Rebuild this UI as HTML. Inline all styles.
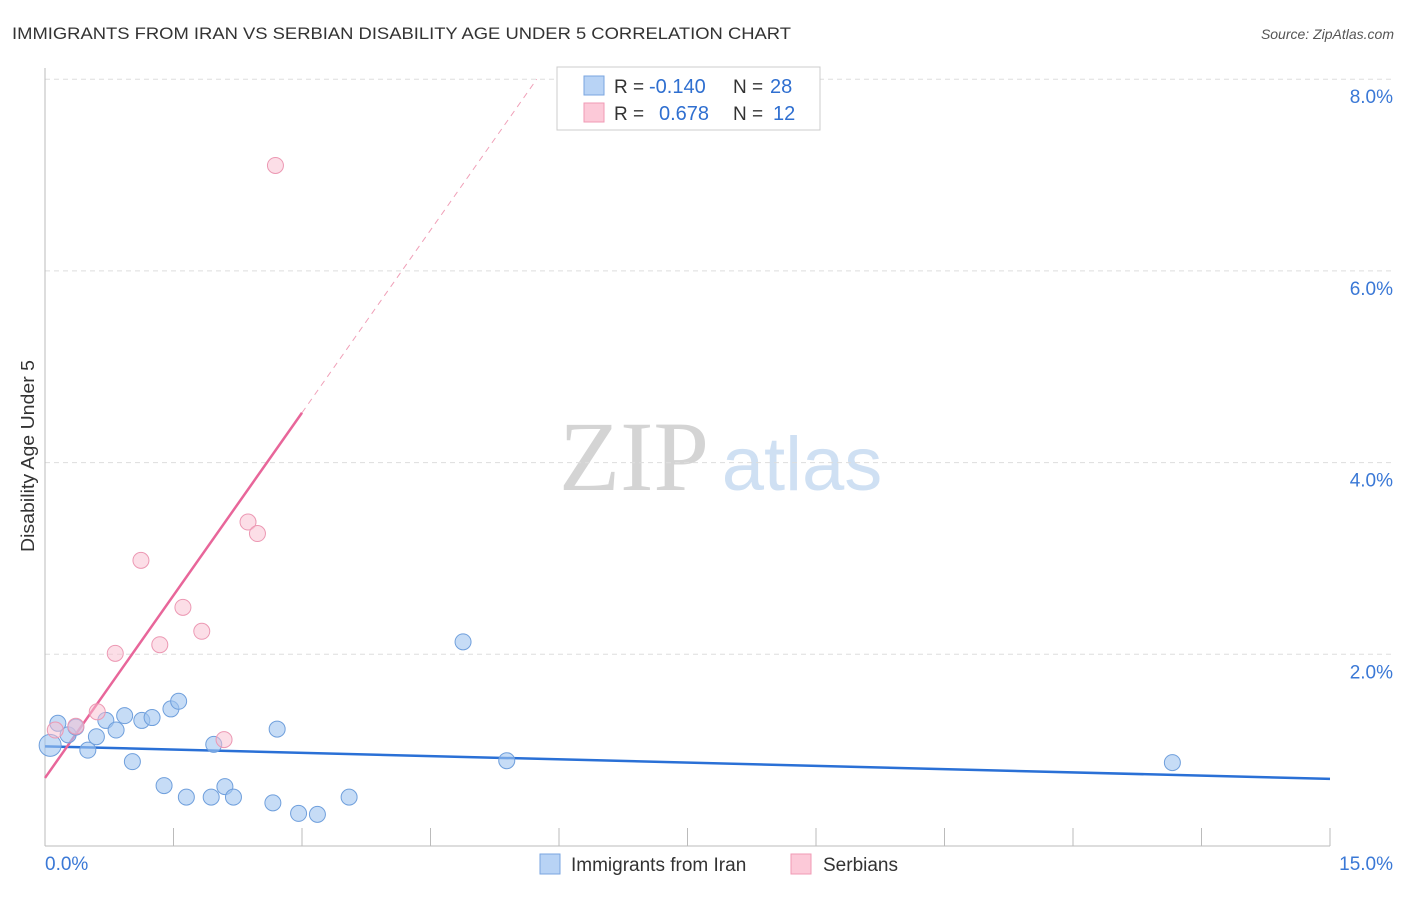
<!DOCTYPE html>
<html><head><meta charset="utf-8"><style>
body{margin:0;background:#fff;font-family:"Liberation Sans",sans-serif;}
svg text{font-family:"Liberation Sans",sans-serif;}
</style></head><body>
<svg id="chart" width="1406" height="892">
<text x="12" y="39" font-size="17" fill="#333" textLength="779" lengthAdjust="spacingAndGlyphs">IMMIGRANTS FROM IRAN VS SERBIAN DISABILITY AGE UNDER 5 CORRELATION CHART</text>
<text x="1394" y="39" font-size="14" fill="#555" font-style="italic" text-anchor="end">Source: ZipAtlas.com</text>
<text transform="translate(34,552) rotate(-90)" font-size="18" fill="#333" textLength="192" lengthAdjust="spacingAndGlyphs">Disability Age Under 5</text>
<g><text x="634" y="490" font-size="100" fill="#d4d4d4" style="font-family:'Liberation Serif',serif" text-anchor="middle">ZIP</text><text x="802" y="490" font-size="76" fill="#cfe0f3" text-anchor="middle">atlas</text></g>
<g id="grid"></g><g id="axes"></g><g id="lines"></g><g id="pts"></g>
<g>
<rect x="557" y="67" width="263" height="63" fill="#fff" stroke="#ccc"/>
<rect x="584" y="76" width="20" height="19" fill="#b8d3f5" stroke="#7aa6e0"/>
<rect x="584" y="103" width="20" height="19" fill="#fcc9d8" stroke="#f09ab5"/>
<text x="614" y="93" font-size="19" fill="#333">R =</text>
<text x="649" y="93" font-size="20" fill="#2f6fd0">-0.140</text>
<text x="733" y="93" font-size="19" fill="#333">N =</text>
<text x="770" y="93" font-size="20" fill="#2f6fd0">28</text>
<text x="614" y="120" font-size="19" fill="#333">R =</text>
<text x="659" y="120" font-size="20" fill="#2f6fd0">0.678</text>
<text x="733" y="120" font-size="19" fill="#333">N =</text>
<text x="773" y="120" font-size="20" fill="#2f6fd0">12</text>
</g>
<g>
<rect x="540" y="854" width="20" height="20" fill="#b8d3f5" stroke="#7aa6e0"/>
<text x="571" y="871" font-size="19" fill="#333">Immigrants from Iran</text>
<rect x="791" y="854" width="20" height="20" fill="#fcc9d8" stroke="#f09ab5"/>
<text x="823" y="871" font-size="19" fill="#333">Serbians</text>
</g>
</svg>
<script>
const blueX=[0.06,0.15,0.27,0.36,0.50,0.60,0.71,0.83,0.93,1.02,1.13,1.25,1.39,1.47,1.56,1.65,1.94,1.97,2.10,2.20,2.66,2.71,2.96,3.18,3.55,4.88,5.39,13.16];
const blueY=[1.05,1.28,1.16,1.24,1.00,1.14,1.31,1.21,1.36,0.88,1.31,1.34,0.63,1.43,1.51,0.51,0.51,1.06,0.62,0.51,0.45,1.22,0.34,0.33,0.51,2.13,0.89,0.87];
const pinkX=[0.12,0.36,0.61,0.82,1.12,1.34,1.61,1.83,2.09,2.37,2.48,2.69];
const pinkY=[1.21,1.25,1.40,2.01,2.98,2.10,2.49,2.24,1.11,3.38,3.26,7.10];
const yTicks=[2,4,6,8];
const blueTrend=[1.04,0.70];
const pinkTrend=[0.71,1.27];
const NS="http://www.w3.org/2000/svg";
const sx=v=>45+v/15*1285, sy=v=>846-v*95.85;
function mk(p,t,a){const e=document.createElementNS(NS,t);for(const k in a)e.setAttribute(k,a[k]);document.getElementById(p).appendChild(e);return e;}
yTicks.forEach(t=>{
 const l=mk('grid','line',{x1:45,x2:1394,y1:sy(t),y2:sy(t),stroke:'#ddd','stroke-dasharray':'5,4'});
 
 
 const tx=mk('grid','text',{x:1393,y:sy(t)+24,'font-size':19,fill:'#3a78d6','text-anchor':'end'});
 tx.textContent=t.toFixed(1)+'%';
 
 
});
mk('axes','line',{x1:45,x2:45,y1:68,y2:846,stroke:'#bbb'});
mk('axes','line',{x1:45,x2:1330,y1:846,y2:846,stroke:'#bbb'});
for(let i=1;i<=10;i++){const x=sx(i*1.5);mk('axes','line',{x1:x,x2:x,y1:828,y2:846,stroke:'#bbb'});}
const t0=mk('axes','text',{x:45,y:870,'font-size':19,fill:'#3a78d6'});t0.textContent='0.0%';


const t1=mk('axes','text',{x:1393,y:870,'font-size':19,fill:'#3a78d6','text-anchor':'end'});t1.textContent='15.0%';


const bl=mk('lines','line',{x1:sx(0),y1:sy(blueTrend[0]),x2:sx(15),y2:sy(blueTrend[1]),stroke:'#2a70d6','stroke-width':2.5});


const pe=(8-pinkTrend[0])/pinkTrend[1];
const pd=mk('lines','line',{x1:sx(3),y1:sy(pinkTrend[0]+3*pinkTrend[1]),x2:sx(pe),y2:sy(8),stroke:'#f0a0b8','stroke-width':1,'stroke-dasharray':'6,5'});


const pl=mk('lines','line',{x1:sx(0),y1:sy(pinkTrend[0]),x2:sx(3),y2:sy(pinkTrend[0]+3*pinkTrend[1]),stroke:'#e8669a','stroke-width':2.5});


blueX.forEach((x,i)=>{const c=mk('pts','circle',{cx:sx(x),cy:sy(blueY[i]),r:i==0?11:8,fill:'rgba(160,196,240,0.6)',stroke:'#6f9fdc'});
 
 });
pinkX.forEach((x,i)=>{const c=mk('pts','circle',{cx:sx(x),cy:sy(pinkY[i]),r:8,fill:'rgba(250,190,208,0.5)',stroke:'#ec98b3'});
 
 });
</script>
</body></html>
